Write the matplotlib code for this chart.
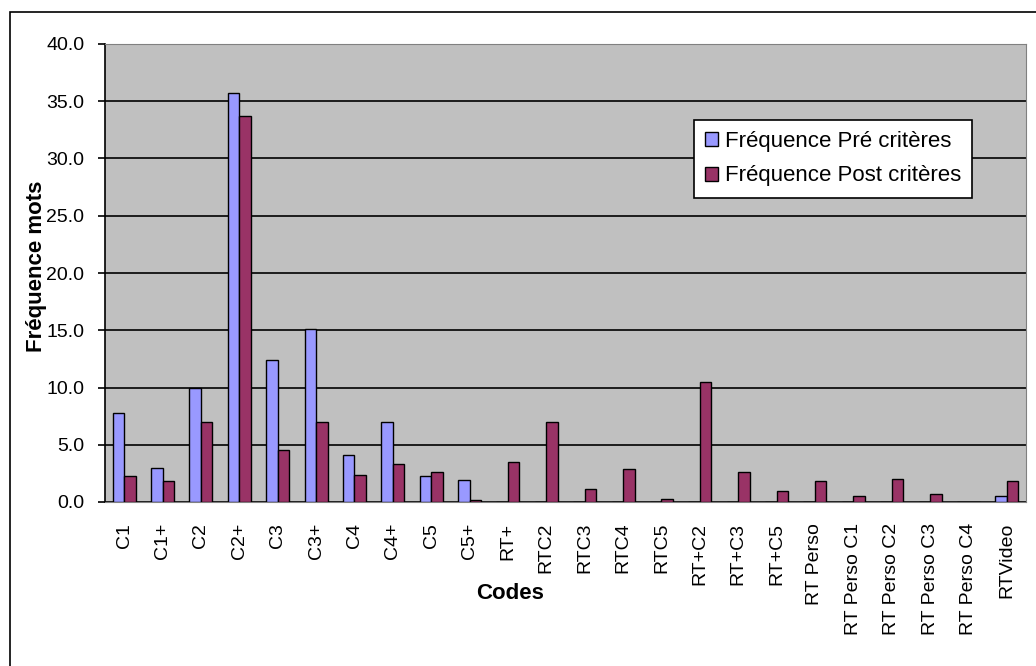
import numpy as np
import matplotlib
matplotlib.use("Agg")
import matplotlib.pyplot as plt
from matplotlib.patches import Rectangle
from matplotlib.ticker import FormatStrFormatter

codes = ["C1", "C1+", "C2", "C2+", "C3", "C3+", "C4", "C4+", "C5", "C5+",
         "RT+", "RTC2", "RTC3", "RTC4", "RTC5", "RT+C2", "RT+C3", "RT+C5",
         "RT Perso", "RT Perso C1", "RT Perso C2", "RT Perso C3", "RT Perso C4", "RTVideo"]
freq_pre = [7.8, 3.0, 10.0, 35.7, 12.4, 15.1, 4.1, 7.0, 2.3, 1.9,
            0, 0, 0, 0, 0, 0, 0, 0, 0, 0, 0, 0, 0, 0.5]
freq_post = [2.3, 1.8, 7.0, 33.7, 4.5, 7.0, 2.4, 3.3, 2.6, 0.2,
             3.5, 7.0, 1.1, 2.9, 0.3, 10.5, 2.6, 1.0, 1.8, 0.5, 2.0, 0.7, 0, 1.8]

plt.rcParams['font.family'] = ['Liberation Sans', 'DejaVu Sans']

W, H = 1036, 666
fig = plt.figure(figsize=(W / 100, H / 100), dpi=100)
fig.patch.set_facecolor("white")

# outer chart frame (right and bottom edges fall outside the picture)
fig.patches.append(Rectangle((10 / W, -0.1), 1.2, (H - 12) / H + 0.1,
                             transform=fig.transFigure, fill=False,
                             edgecolor="black", linewidth=1.2))

ax = fig.add_axes([105 / W, (H - 502) / H, 921 / W, 458 / H])
ax.set_facecolor("#C0C0C0")

x = np.arange(len(codes))
bw = 0.3
ax.bar(x - bw / 2, freq_pre, bw, color="#9999FF", edgecolor="black", linewidth=1,
       label="Fréquence Pré critères", zorder=3)
ax.bar(x + bw / 2, freq_post, bw, color="#993366", edgecolor="black", linewidth=1,
       label="Fréquence Post critères", zorder=3)

ax.set_xlim(-0.5, len(codes) - 0.5)
ax.set_ylim(0, 40)
ax.set_yticks(np.arange(0, 40.1, 5))
ax.yaxis.set_major_formatter(FormatStrFormatter("%.1f"))
ax.grid(axis="y", color="black", linewidth=1.2, zorder=1)

ax.set_xticks(x)
ax.set_xticklabels(codes, rotation=90, fontsize=14)
ax.tick_params(axis="x", length=0, pad=15)
ax.tick_params(axis="y", labelsize=14, length=5, width=1.2, direction="out", pad=10)

for side in ["top", "right"]:
    ax.spines[side].set_color("#808080")
ax.spines["bottom"].set_color("#808080")
ax.spines["left"].set_color("black")
ax.spines["left"].set_linewidth(1.2)

ax.set_ylabel("Fréquence mots", fontsize=16, fontweight="bold")
ax.yaxis.set_label_coords(-0.063, 0.515)
ax.set_xlabel("Codes", fontsize=16, fontweight="bold")
ax.xaxis.set_label_coords(0.44, -0.177)

leg = ax.legend(loc="upper left", bbox_to_anchor=((694 - 105) / 921, (502 - 120) / 458),
                borderaxespad=0, fontsize=16, frameon=True, fancybox=False,
                framealpha=1, edgecolor="black", handlelength=0.6, handleheight=0.6,
                handletextpad=0.3, labelspacing=0.6, borderpad=0.5)
leg.get_frame().set_linewidth(1.2)

fig.savefig("out.png", dpi=100)
